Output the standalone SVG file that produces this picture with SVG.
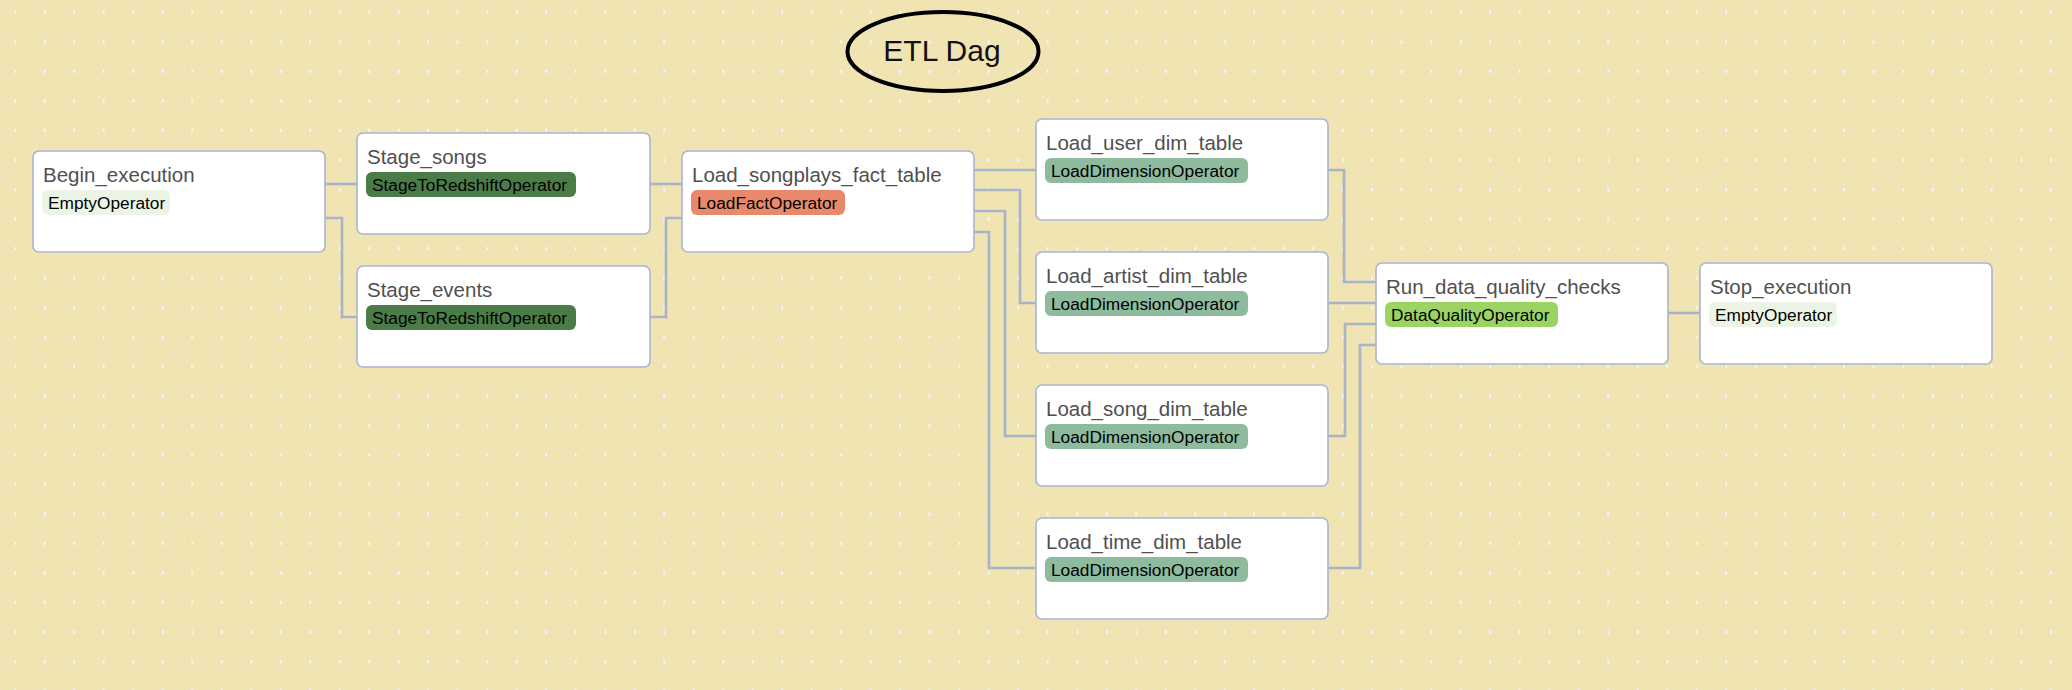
<svg xmlns="http://www.w3.org/2000/svg" width="2072" height="690" viewBox="0 0 2072 690">
  <defs>
    <pattern id="grid" patternUnits="userSpaceOnUse" x="0" y="0" width="29.5" height="29.5">
      <rect x="13" y="11" width="3" height="3" fill="#fcfbf5"/>
      <rect x="13" y="11" width="1" height="3" fill="#cfd1d6"/>
    </pattern>
    <style>
      .node rect.box { fill: #ffffff; stroke: #a9b5d0; stroke-width: 1.6; }
      .title { font-family: "Liberation Sans", Arial, Helvetica, sans-serif; font-size: 20.5px; fill: #51504f; }
      .badge-text { font-family: "Liberation Sans", Arial, Helvetica, sans-serif; font-size: 17.3px; fill: #000000; }
      .empty { fill: #ecf5e5; }
      .stage { fill: #4b7c48; }
      .fact { fill: #e8896c; }
      .dim { fill: #8ebb9e; }
      .dq { fill: #9bd463; }
      #edges path { fill: none; stroke: #a9b3c9; stroke-width: 2.6; }
      .dag-title { font-family: "Liberation Sans", Arial, Helvetica, sans-serif; font-size: 30px; fill: #111111; }
    </style>
  </defs>

  <rect x="0" y="0" width="2072" height="690" fill="#f0e4b2"/>
  <rect x="0" y="0" width="2072" height="690" fill="url(#grid)"/>

  <g id="title">
    <ellipse cx="943" cy="51.5" rx="95.5" ry="39.5" fill="none" stroke="#000000" stroke-width="4"/>
    <text class="dag-title" x="942" y="60.5" text-anchor="middle">ETL Dag</text>
  </g>

  <g id="edges">
    <path d="M325,184 H357"/>
    <path d="M325,218 H342 V317 H357"/>
    <path d="M650,184 H682"/>
    <path d="M650,317 H666 V218 H682"/>
    <path d="M974,170 H1036"/>
    <path d="M974,190 H1020 V303 H1036"/>
    <path d="M974,211 H1005 V436 H1036"/>
    <path d="M974,232 H989 V568 H1036"/>
    <path d="M1328,170 H1344 V282 H1376"/>
    <path d="M1328,303 H1376"/>
    <path d="M1328,436 H1345 V324 H1376"/>
    <path d="M1328,568 H1360 V345 H1376"/>
    <path d="M1668,313 H1700"/>
  </g>

  <g id="Begin_execution" class="node">
    <rect class="box" x="33" y="151" width="292" height="101" rx="6"/>
    <text class="title" x="43" y="182">Begin_execution</text>
    <rect class="empty" x="42" y="190" width="128" height="25" rx="6"/>
    <text class="badge-text" x="48" y="209">EmptyOperator</text>
  </g>

  <g id="Stage_songs" class="node">
    <rect class="box" x="357" y="133" width="293" height="101" rx="6"/>
    <text class="title" x="367" y="164">Stage_songs</text>
    <rect class="stage" x="366" y="172" width="210" height="25" rx="6"/>
    <text class="badge-text" x="372" y="191">StageToRedshiftOperator</text>
  </g>

  <g id="Stage_events" class="node">
    <rect class="box" x="357" y="266" width="293" height="101" rx="6"/>
    <text class="title" x="367" y="297">Stage_events</text>
    <rect class="stage" x="366" y="305" width="210" height="25" rx="6"/>
    <text class="badge-text" x="372" y="324">StageToRedshiftOperator</text>
  </g>

  <g id="Load_songplays_fact_table" class="node">
    <rect class="box" x="682" y="151" width="292" height="101" rx="6"/>
    <text class="title" x="692" y="182">Load_songplays_fact_table</text>
    <rect class="fact" x="691" y="190" width="154" height="25" rx="6"/>
    <text class="badge-text" x="697" y="209">LoadFactOperator</text>
  </g>

  <g id="Load_user_dim_table" class="node">
    <rect class="box" x="1036" y="119" width="292" height="101" rx="6"/>
    <text class="title" x="1046" y="150">Load_user_dim_table</text>
    <rect class="dim" x="1045" y="158" width="203" height="25" rx="6"/>
    <text class="badge-text" x="1051" y="177">LoadDimensionOperator</text>
  </g>

  <g id="Load_artist_dim_table" class="node">
    <rect class="box" x="1036" y="252" width="292" height="101" rx="6"/>
    <text class="title" x="1046" y="283">Load_artist_dim_table</text>
    <rect class="dim" x="1045" y="291" width="203" height="25" rx="6"/>
    <text class="badge-text" x="1051" y="310">LoadDimensionOperator</text>
  </g>

  <g id="Load_song_dim_table" class="node">
    <rect class="box" x="1036" y="385" width="292" height="101" rx="6"/>
    <text class="title" x="1046" y="416">Load_song_dim_table</text>
    <rect class="dim" x="1045" y="424" width="203" height="25" rx="6"/>
    <text class="badge-text" x="1051" y="443">LoadDimensionOperator</text>
  </g>

  <g id="Load_time_dim_table" class="node">
    <rect class="box" x="1036" y="518" width="292" height="101" rx="6"/>
    <text class="title" x="1046" y="549">Load_time_dim_table</text>
    <rect class="dim" x="1045" y="557" width="203" height="25" rx="6"/>
    <text class="badge-text" x="1051" y="576">LoadDimensionOperator</text>
  </g>

  <g id="Run_data_quality_checks" class="node">
    <rect class="box" x="1376" y="263" width="292" height="101" rx="6"/>
    <text class="title" x="1386" y="294">Run_data_quality_checks</text>
    <rect class="dq" x="1385" y="302" width="173" height="25" rx="6"/>
    <text class="badge-text" x="1391" y="321">DataQualityOperator</text>
  </g>

  <g id="Stop_execution" class="node">
    <rect class="box" x="1700" y="263" width="292" height="101" rx="6"/>
    <text class="title" x="1710" y="294">Stop_execution</text>
    <rect class="empty" x="1709" y="302" width="128" height="25" rx="6"/>
    <text class="badge-text" x="1715" y="321">EmptyOperator</text>
  </g>
</svg>
